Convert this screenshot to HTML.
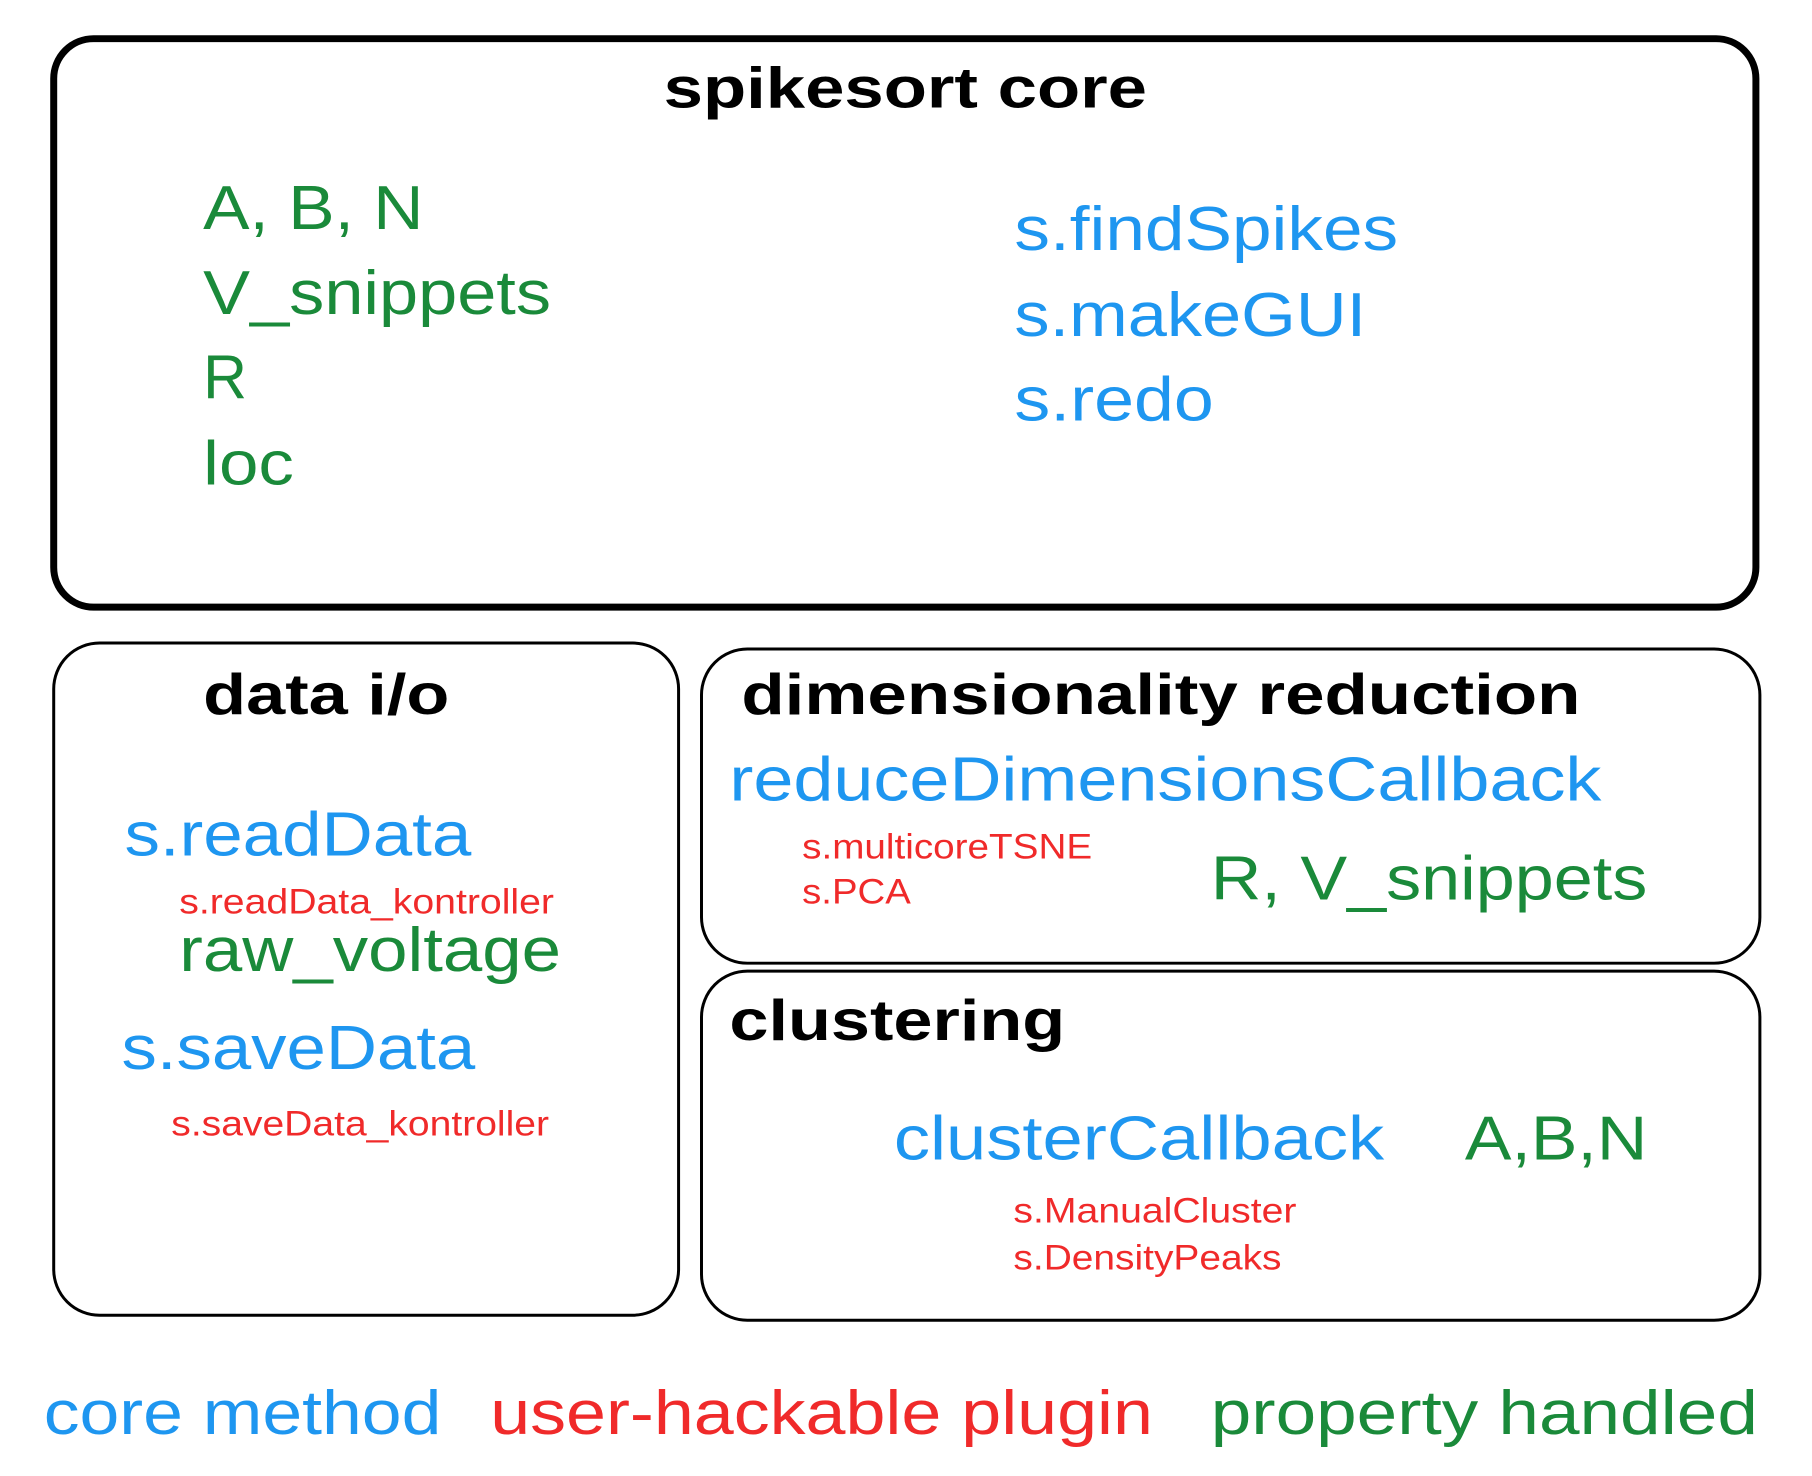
<!DOCTYPE html>
<html><head><style>html,body{margin:0;padding:0;background:#fff}svg{display:block}</style></head><body>
<svg width="1812" height="1476" viewBox="0 0 1812 1476" xmlns="http://www.w3.org/2000/svg" font-family="Liberation Sans, sans-serif">
<g transform="matrix(0.9966 0 0 0.9973 -2.1 -2.2)">
<rect x="56" y="41" width="1708" height="570" rx="40" fill="none" stroke="#000" stroke-width="7"/>
<rect x="56" y="647" width="627" height="674" rx="46" fill="none" stroke="#000" stroke-width="3"/>
<rect x="706" y="653" width="1062" height="315" rx="46" fill="none" stroke="#000" stroke-width="3"/>
<rect x="706" y="976" width="1062" height="350" rx="46" fill="none" stroke="#000" stroke-width="3"/>
<g font-weight="bold" font-size="58" fill="#000">
<text x="668" y="110" textLength="485" lengthAdjust="spacingAndGlyphs">spikesort core</text>
<text x="206" y="718" textLength="247" lengthAdjust="spacingAndGlyphs">data i/o</text>
<text x="746" y="718" textLength="842" lengthAdjust="spacingAndGlyphs">dimensionality reduction</text>
<text x="734" y="1045" textLength="337" lengthAdjust="spacingAndGlyphs">clustering</text>
</g>
<g font-size="62" fill="#1a8a3a">
<text x="206" y="232" textLength="221" lengthAdjust="spacingAndGlyphs">A, B, N</text>
<text x="206" y="317" textLength="349" lengthAdjust="spacingAndGlyphs">V_snippets</text>
<text x="206" y="402" textLength="44" lengthAdjust="spacingAndGlyphs">R</text>
<text x="206" y="488" textLength="91" lengthAdjust="spacingAndGlyphs">loc</text>
<text x="182" y="976" textLength="383" lengthAdjust="spacingAndGlyphs">raw_voltage</text>
<text x="1217" y="904" textLength="438" lengthAdjust="spacingAndGlyphs">R, V_snippets</text>
<text x="1472" y="1165" textLength="183" lengthAdjust="spacingAndGlyphs">A,B,N</text>
<text x="1217" y="1440" textLength="549" lengthAdjust="spacingAndGlyphs">property handled</text>
</g>
<g font-size="62" fill="#1e96f0">
<text x="1020" y="253" textLength="385" lengthAdjust="spacingAndGlyphs">s.findSpikes</text>
<text x="1020" y="339" textLength="353" lengthAdjust="spacingAndGlyphs">s.makeGUI</text>
<text x="1020" y="424" textLength="200" lengthAdjust="spacingAndGlyphs">s.redo</text>
<text x="127" y="860" textLength="348" lengthAdjust="spacingAndGlyphs">s.readData</text>
<text x="124" y="1074" textLength="355" lengthAdjust="spacingAndGlyphs">s.saveData</text>
<text x="734" y="805" textLength="875" lengthAdjust="spacingAndGlyphs">reduceDimensionsCallback</text>
<text x="899" y="1165" textLength="492" lengthAdjust="spacingAndGlyphs">clusterCallback</text>
<text x="46" y="1440" textLength="399" lengthAdjust="spacingAndGlyphs">core method</text>
</g>
<g font-size="35" fill="#f02a2a">
<text x="182" y="918" textLength="376" lengthAdjust="spacingAndGlyphs">s.readData_kontroller</text>
<text x="174" y="1141" textLength="379" lengthAdjust="spacingAndGlyphs">s.saveData_kontroller</text>
<text x="807" y="863" textLength="291" lengthAdjust="spacingAndGlyphs">s.multicoreTSNE</text>
<text x="807" y="908" textLength="109" lengthAdjust="spacingAndGlyphs">s.PCA</text>
<text x="1019" y="1228" textLength="284" lengthAdjust="spacingAndGlyphs">s.ManualCluster</text>
<text x="1019" y="1275" textLength="269" lengthAdjust="spacingAndGlyphs">s.DensityPeaks</text>
</g>
<text x="494" y="1440" font-size="62" fill="#f02a2a" textLength="665" lengthAdjust="spacingAndGlyphs">user-hackable plugin</text>
</g>
</svg>
</body></html>
